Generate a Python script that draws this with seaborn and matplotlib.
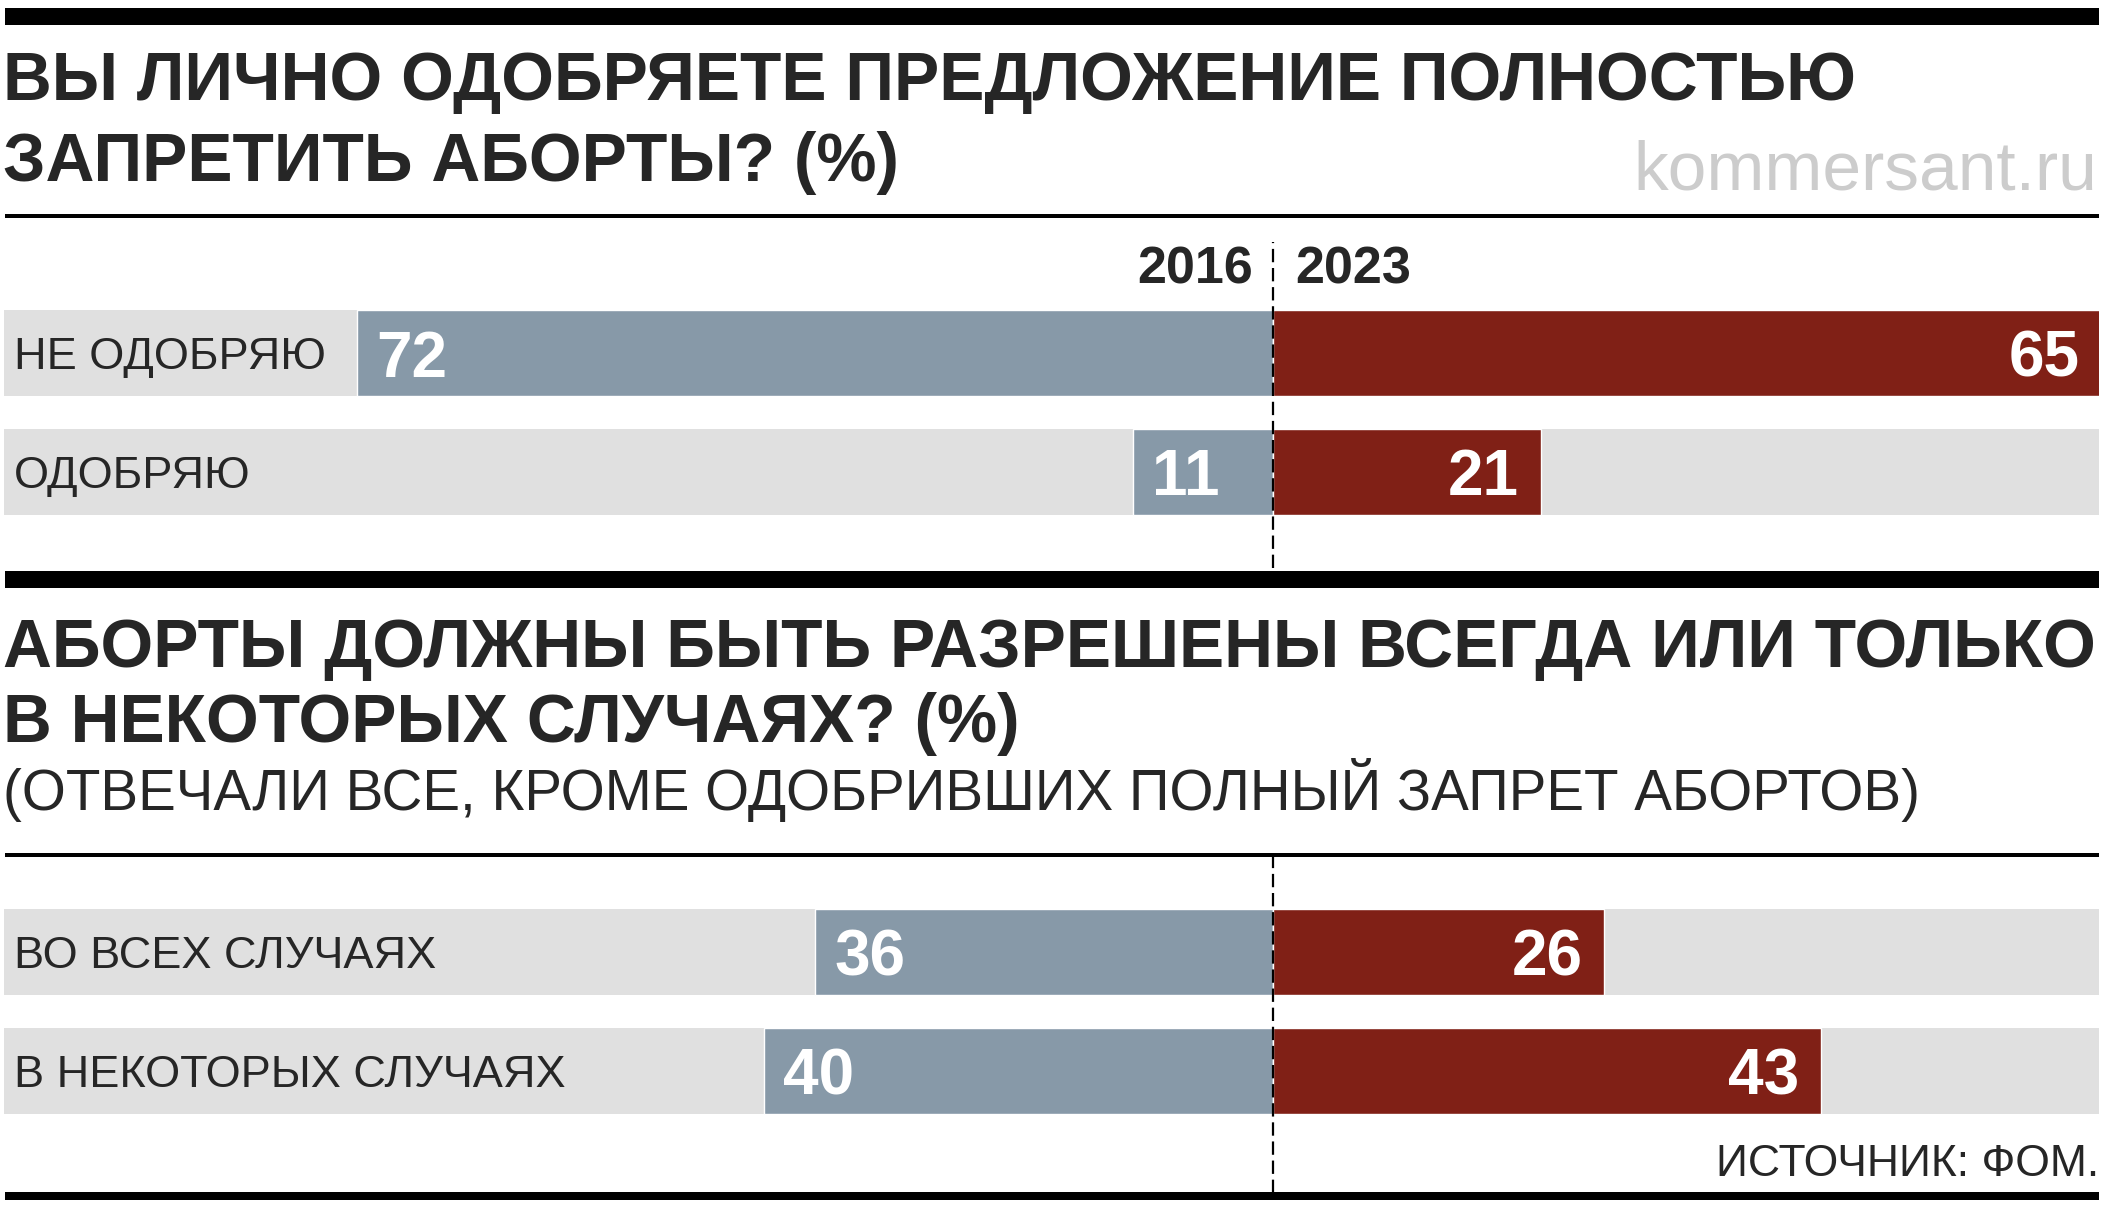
import matplotlib
matplotlib.use("Agg")
import matplotlib.pyplot as plt
import seaborn as sns
import pandas as pd
from matplotlib.patches import Rectangle

# ---------------- data ----------------
title1 = ["ВЫ ЛИЧНО ОДОБРЯЕТЕ ПРЕДЛОЖЕНИЕ ПОЛНОСТЬЮ", "ЗАПРЕТИТЬ АБОРТЫ? (%)"]
title2 = ["АБОРТЫ ДОЛЖНЫ БЫТЬ РАЗРЕШЕНЫ ВСЕГДА ИЛИ ТОЛЬКО", "В НЕКОТОРЫХ СЛУЧАЯХ? (%)"]
subtitle2 = "(ОТВЕЧАЛИ ВСЕ, КРОМЕ ОДОБРИВШИХ ПОЛНЫЙ ЗАПРЕТ АБОРТОВ)"
years = ["2016", "2023"]
cats1 = ["НЕ ОДОБРЯЮ", "ОДОБРЯЮ"]
v2016_1 = [72, 11]
v2023_1 = [65, 21]
cats2 = ["ВО ВСЕХ СЛУЧАЯХ", "В НЕКОТОРЫХ СЛУЧАЯХ"]
v2016_2 = [36, 40]
v2023_2 = [26, 43]
source = "ИСТОЧНИК: ФОМ."
watermark = "kommersant.ru"

# ---------------- style ----------------
BLUE = "#8799A8"
RED = "#802016"
TRACK = "#E0E0E0"
XMIN, XMAX = -99.7, 64.85
BAR_H = 0.72

sns.set_style("white")
plt.rcParams["font.family"] = ["Liberation Sans", "DejaVu Sans"]

W, H = 2112, 1216
fig = plt.figure(figsize=(W / 100, H / 100), dpi=100)


def fx(px):
    return px / W


def fy(py):
    return 1 - py / H


def hbar(y0, y1, x0=5, x1=2099, color="black"):
    fig.add_artist(Rectangle((fx(x0), fy(y1)), fx(x1) - fx(x0), (y1 - y0) / H,
                             transform=fig.transFigure, color=color, lw=0))


# decorative rules
hbar(8, 25)
hbar(214, 217.5)
hbar(571, 588)
hbar(853, 856.5)
hbar(1192, 1200)

# titles
TS = 48.8
fig.text(fx(3), fy(100), title1[0], fontsize=TS, fontweight="bold", va="baseline")
fig.text(fx(3), fy(181), title1[1], fontsize=TS, fontweight="bold", va="baseline")
fig.text(fx(2097), fy(190), watermark, fontsize=50, color="#CCCCCC", ha="right", va="baseline")
fig.text(fx(3), fy(667), title2[0], fontsize=TS, fontweight="bold", va="baseline")
fig.text(fx(3), fy(742), title2[1], fontsize=TS, fontweight="bold", va="baseline")
fig.text(fx(3), fy(810), subtitle2, fontsize=40.7, va="baseline")
fig.text(fx(2099), fy(1176), source, fontsize=32, ha="right", va="baseline")


def section(rect_px, ylim, cats, a, b, show_years):
    left, top, right, bottom = rect_px
    ax = fig.add_axes([fx(left), fy(bottom), fx(right) - fx(left), (bottom - top) / H])
    df = pd.DataFrame({
        "cat": cats + cats,
        "year": [years[0]] * len(cats) + [years[1]] * len(cats),
        "val": [-v for v in a] + list(b),
    })
    sns.barplot(data=df, x="val", y="cat", hue="year", orient="h", dodge=False,
                palette={years[0]: BLUE, years[1]: RED}, saturation=1,
                width=BAR_H, errorbar=None, legend=False, ax=ax, zorder=2)
    ax.barh(range(len(cats)), XMAX - XMIN, left=XMIN, height=BAR_H,
            color=TRACK, lw=0, zorder=0)
    ax.axvline(0, color="black", lw=1.6, ls=(0, (6, 2.6)), zorder=3)
    for i, c in enumerate(cats):
        ax.text(XMIN + 0.75, i, c, fontsize=32.5, va="center_baseline", ha="left", zorder=4)
        ax.text(-a[i] + 1.5, i, str(a[i]), fontsize=46, fontweight="bold", color="white",
                va="center_baseline", ha="left", zorder=4)
        ax.text(b[i] - 1.7, i, str(b[i]), fontsize=46, fontweight="bold", color="white",
                va="center_baseline", ha="right", zorder=4)
    if show_years:
        ax.text(-1.6, -0.74, years[0], fontsize=37.5, fontweight="bold",
                va="center_baseline", ha="right")
        ax.text(1.7, -0.74, years[1], fontsize=37.5, fontweight="bold",
                va="center_baseline", ha="left")
    ax.set_xlim(XMIN, XMAX)
    ax.set_ylim(*ylim)
    ax.set_axis_off()
    return ax


section((4, 242, 2099, 568), (1.807, -0.933), cats1, v2016_1, v2023_1, True)
section((4, 857, 2099, 1193), (2.025, -0.798), cats2, v2016_2, v2023_2, False)

fig.savefig("out.png", dpi=100, facecolor="white")
